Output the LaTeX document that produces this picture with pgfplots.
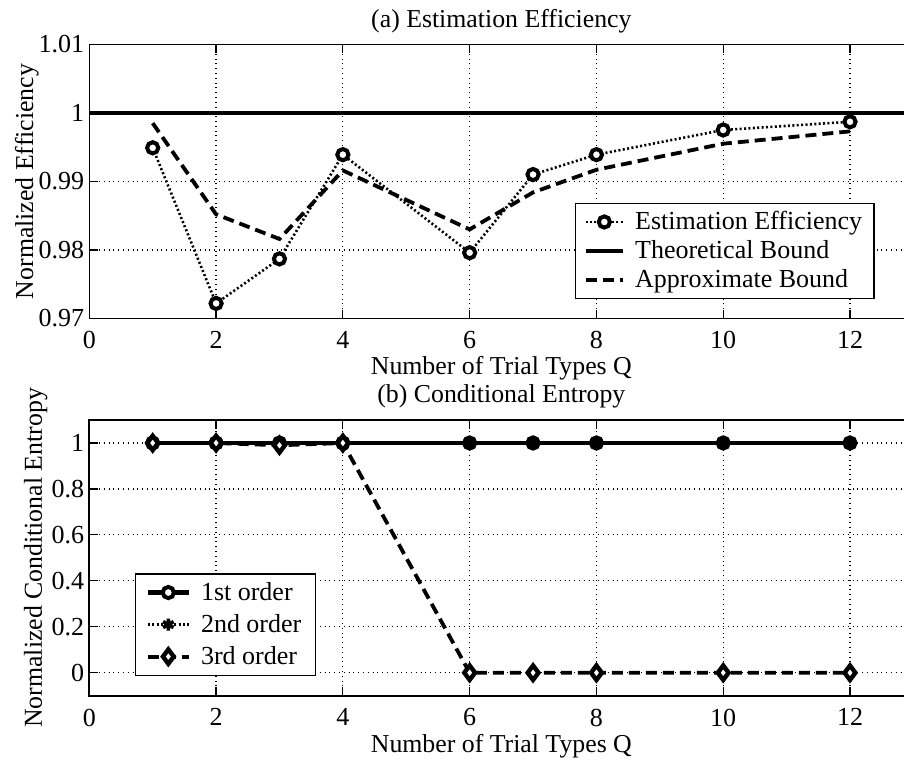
\documentclass[border=0pt]{standalone}
\usepackage{fontspec}
\setmainfont{Liberation Serif}
\usepackage{pgfplots}
\pgfplotsset{compat=1.18}
\begin{document}
\begin{tikzpicture}
\path[use as bounding box] (0,0) rectangle (452pt,-380.5pt);
\clip (0,0) rectangle (452pt,-380.5pt);
\pgfplotsset{
 myax/.style={
  scale only axis, width=412.05pt, clip=false,
  xmin=0, xmax=13, xtick={0,2,...,12},
  grid=major, major grid style={black, dotted, line width=0.6pt},
  axis line style={line width=0.8pt}, tick style={black, line width=0.6pt},
  font=\fontsize{12.9}{14}\selectfont,
  tick label style={font=\fontsize{13}{15}\selectfont},
  /pgf/number format/assume math mode=true,
  xticklabel style={yshift=-3pt},
  yticklabel style={xshift=1pt},
  legend cell align=left,
  legend style={draw=black, line width=0.6pt, font=\fontsize{13}{15}\selectfont,
    /tikz/every odd column/.append style={column sep=3pt}},
  xlabel={Number of Trial Types Q},
  xlabel style={at={(axis description cs:0.5,-0.206)}, anchor=base, yshift=0pt},
 }
}
\begin{axis}[myax, height=137.1pt, at={(44.65pt,-159.25pt)}, anchor=south west,
  ymin=0.97, ymax=1.01, ytick={0.97,0.98,0.99,1,1.01},
  yticklabels={0.97,0.98,0.99,1,1.01},
  ylabel={Normalized Efficiency},
  ylabel style={at={(axis description cs:-0.0683,0.5)}, anchor=base},
  legend style={at={(0.953,0.070)}, anchor=south east, inner xsep=4pt},
  legend image code/.code={\draw[mark repeat=2,mark phase=2] plot coordinates {(0cm,0cm) (0.33cm,0cm) (0.66cm,0cm)};}]
\addplot[black, line width=1.3pt, dash pattern=on 1pt off 1.2pt, mark=*, mark size=2.8pt,
  mark options={solid, fill=white, draw=black, line width=2pt}]
  coordinates {(1,0.9949) (2,0.9722) (3,0.9787) (4,0.9939) (6,0.9796) (7,0.9910) (8,0.9939) (10,0.9975) (12,0.9987)};
\addlegendentry{Estimation Efficiency}
\addplot[black, line width=2pt] coordinates {(0,1) (13,1)};
\addlegendentry{Theoretical Bound}
\addplot[black, line width=1.9pt, dash pattern=on 5.5pt off 3pt]
  coordinates {(1,0.9985) (2,0.9852) (3,0.9816) (4,0.9916) (6,0.9830) (7,0.9884) (8,0.9917) (10,0.9955) (12,0.9973)};
\addlegendentry{Approximate Bound}
\node[anchor=base, font=\fontsize{12.9}{14}\selectfont] at (axis description cs:0.5,1.063) {(a) Estimation Efficiency};
\end{axis}
\begin{axis}[myax, height=137.85pt, at={(44.65pt,-347.85pt)}, anchor=south west,
  ymin=-0.1, ymax=1.1, ytick={0,0.2,0.4,0.6,0.8,1},
  yticklabels={0,0.2,0.4,0.6,0.8,1},
  ylabel={Normalized Conditional Entropy},
  ylabel style={at={(axis description cs:-0.0574,0.5)}, anchor=base},
  legend style={at={(0.0555,0.0725)}, anchor=south west, row sep=1.5pt, inner xsep=5pt},
  legend image code/.code={\draw[mark repeat=2,mark phase=2] plot coordinates {(0cm,0cm) (0.36cm,0cm) (0.72cm,0cm)};}]
\addplot[black, line width=2.2pt, mark=*, mark size=2.8pt,
  mark options={solid, fill=white, draw=black, line width=2pt}]
  coordinates {(1,1) (2,1) (3,1) (4,1) (6,1) (7,1) (8,1) (10,1) (12,1)};
\addlegendentry{1st order}
\addplot[black, line width=1.3pt, dash pattern=on 1pt off 1.2pt, mark=asterisk, mark size=3pt,
  mark options={solid, line width=1.8pt}]
  coordinates {(1,1) (2,1) (3,1) (4,1) (6,1) (7,1) (8,1) (10,1) (12,1)};
\addlegendentry{2nd order}
\addplot[black, line width=1.9pt, dash pattern=on 5.5pt off 3pt, mark=diamond*, mark size=3.6pt,
  mark options={solid, fill=white, draw=black, line width=2.2pt}]
  coordinates {(1,1) (2,1) (3,0.99) (4,1) (6,0) (7,0) (8,0) (10,0) (12,0)};
\addlegendentry{3rd order}
\node[anchor=base, font=\fontsize{12.9}{14}\selectfont] at (axis description cs:0.5,1.065) {(b) Conditional Entropy};
\end{axis}
\end{tikzpicture}
\end{document}
